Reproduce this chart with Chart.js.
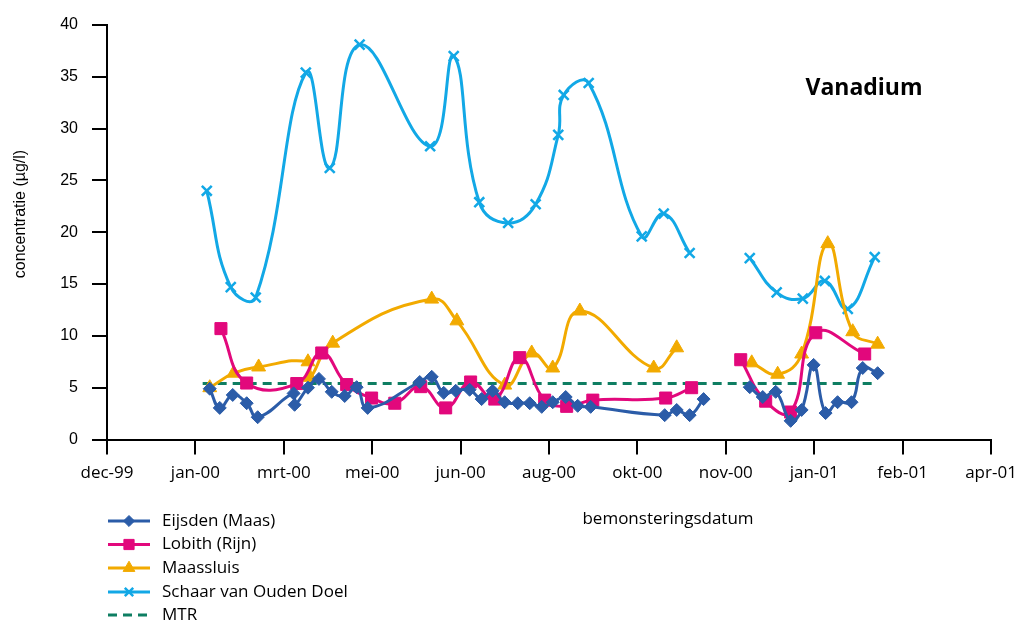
<!DOCTYPE html>
<html>
<head>
<meta charset="utf-8">
<script src="https://cdn.jsdelivr.net/npm/chart.js@4.4.0/dist/chart.umd.min.js"></script>
<style>
  html, body { margin: 0; padding: 0; background: #ffffff; }
  canvas { display: block; }
</style>
</head>
<body>
<canvas id="chart" width="1016" height="623"></canvas>
<script>
// Axis labels (one every 45 days on the date axis)
const tickLabels = ['dec-99', 'jan-00', 'mrt-00', 'mei-00', 'jun-00', 'aug-00', 'okt-00', 'nov-00', 'jan-01', 'feb-01', 'apr-01'];
const daysPerTick = 45;

// Sampling days (days after the first axis tick) and vanadium concentrations in µg/l.
// A null value marks the break in the sampling programme.
const eijsdenDays   = [52.3, 57.4, 64.0, 71.1, 76.7, 95.0, 95.5, 102.3, 107.9, 114.4, 121.0, 127.1, 132.7, 159.2, 165.3, 171.4, 177.5, 184.6, 190.7, 196.3, 202.4, 209.1, 215.2, 221.3, 226.9, 233.5, 239.6, 246.2, 283.9, 290.0, 296.6, 303.7, 315.0, 327.2, 333.8, 340.4, 348.0, 353.6, 359.7, 365.8, 371.9, 379.0, 384.7, 392.3];
const eijsdenValues = [4.9, 3.05, 4.3, 3.5, 2.15, 4.45, 3.35, 5.0, 5.85, 4.6, 4.2, 5.05, 3.05, 5.55, 6.05, 4.5, 4.7, 4.8, 3.9, 4.7, 3.6, 3.5, 3.5, 3.15, 3.6, 4.1, 3.25, 3.15, 2.35, 2.85, 2.35, 3.9, null, 5.05, 4.1, 4.6, 1.8, 2.85, 7.2, 2.55, 3.6, 3.6, 6.9, 6.4];

const lobithDays   = [58.0, 71.1, 96.6, 109.3, 122.0, 134.7, 146.5, 159.7, 172.4, 185.1, 197.4, 210.1, 222.8, 234.0, 247.3, 284.4, 297.6, 310.0, 322.6, 335.3, 348.0, 360.8, 385.7];
const lobithValues = [10.7, 5.45, 5.4, 8.35, 5.3, 4.0, 3.5, 5.1, 3.05, 5.55, 3.9, 7.9, 3.8, 3.2, 3.8, 4.0, 5.0, null, 7.7, 3.7, 2.65, 10.3, 8.25];

const maassluisDays   = [52.3, 64.5, 77.2, 102.3, 103.3, 114.9, 165.3, 178.1, 202.5, 216.2, 226.9, 240.7, 278.3, 290.0, 310.0, 328.2, 341.4, 353.6, 366.9, 379.6, 392.3];
const maassluisValues = [5.0, 6.4, 7.0, 7.5, 6.0, 9.3, 13.55, 11.45, 5.25, 8.35, 6.9, 12.4, 6.9, 8.85, null, 7.4, 6.3, 8.25, 18.9, 10.4, 9.2];

const schaarDays   = [50.8, 63.0, 75.7, 101.2, 113.4, 128.6, 164.5, 176.5, 189.5, 204.2, 218.2, 229.7, 232.5, 245.2, 272.2, 283.4, 296.6, 312.0, 327.2, 340.9, 354.2, 365.4, 377.1, 390.8];
const schaarValues = [24.0, 14.7, 13.7, 35.4, 26.2, 38.1, 28.3, 37.0, 22.9, 20.9, 22.7, 29.4, 33.25, 34.4, 19.6, 21.8, 18.0, null, 17.5, 14.2, 13.6, 15.3, 12.6, 17.6];

// Maximum toelaatbaar risico (MTR) over the sampled period
const mtrDays  = [48.7, 391.8];
const mtrLevel = 5.4;

const seriesNames = ['Eijsden (Maas)', 'Lobith (Rijn)', 'Maassluis', 'Schaar van Ouden Doel', 'MTR'];

function toPoints(days, values) {
  return days.map((d, i) => ({ x: d, y: values[i] }));
}

const textFont = "'Open Sans', 'DejaVu Sans', sans-serif";
const numFont = "'Liberation Sans', Arial, sans-serif";

function lineSet(label, data, color, style, radius, extra) {
  return Object.assign({
    label: label,
    data: data,
    borderColor: color,
    backgroundColor: color,
    borderWidth: 3,
    pointStyle: style,
    pointRadius: radius,
    pointBackgroundColor: color,
    pointBorderColor: color,
    pointBorderWidth: 1,
    tension: 0.45,
    spanGaps: false,
    fill: false
  }, extra || {});
}

const datasets = [
  lineSet(seriesNames[0], toPoints(eijsdenDays, eijsdenValues), '#2B5CA8', 'rectRot', 6.5),
  lineSet(seriesNames[1], toPoints(lobithDays, lobithValues), '#E2087C', 'rect', 8.5),
  lineSet(seriesNames[2], toPoints(maassluisDays, maassluisValues), '#F2AA00', 'triangle', 8),
  lineSet(seriesNames[3], toPoints(schaarDays, schaarValues), '#12A8E6', 'crossRot', 7, { pointBorderWidth: 2.5 }),
  lineSet(seriesNames[4], mtrDays.map(d => ({ x: d, y: mtrLevel })), '#0E7E62', 'line', 0, { borderDash: [9, 6], tension: 0 })
];

// Chart heading, axis captions and the stacked legend below the plot
const decorations = {
  id: 'decorations',
  afterDraw(chart) {
    const ctx = chart.ctx;
    ctx.save();
    ctx.fillStyle = '#000';
    ctx.textBaseline = 'middle';
    ctx.textAlign = 'center';

    ctx.font = "bold 23px " + textFont;
    ctx.fillText('Vanadium', 864, 88);

    ctx.font = "17px " + textFont;
    ctx.fillText('bemonsteringsdatum', 668, 519);

    ctx.save();
    ctx.translate(21, 214);
    ctx.rotate(-Math.PI / 2);
    ctx.font = "16px " + numFont;
    ctx.fillText('concentratie (µg/l)', 0, 0);
    ctx.restore();

    const rowY = [521, 544.5, 568, 592, 615];
    chart.data.datasets.forEach((ds, i) => {
      const y = rowY[i];
      ctx.save();
      ctx.strokeStyle = ds.borderColor;
      ctx.lineWidth = 3;
      ctx.setLineDash(ds.borderDash || []);
      ctx.beginPath();
      ctx.moveTo(108, y);
      ctx.lineTo(150, y);
      ctx.stroke();
      ctx.setLineDash([]);
      if (ds.pointRadius > 0 && Chart.helpers && Chart.helpers.drawPoint) {
        ctx.fillStyle = ds.pointBackgroundColor;
        ctx.strokeStyle = ds.pointBorderColor;
        ctx.lineWidth = ds.pointBorderWidth;
        Chart.helpers.drawPoint(ctx, {
          pointStyle: ds.pointStyle,
          radius: ds.pointRadius * 0.85,
          rotation: 0,
          borderWidth: ds.pointBorderWidth
        }, 129, y);
      }
      ctx.restore();
      ctx.fillStyle = '#000';
      ctx.textAlign = 'left';
      ctx.font = "17px " + textFont;
      ctx.fillText(ds.label, 162, y);
    });
    ctx.restore();
  }
};

new Chart(document.getElementById('chart'), {
  type: 'line',
  data: { datasets: datasets },
  options: {
    responsive: false,
    animation: false,
    events: [],
    layout: { padding: { top: 25, right: 25, bottom: 0, left: 0 } },
    plugins: {
      legend: { display: false },
      tooltip: { enabled: false }
    },
    scales: {
      x: {
        type: 'linear',
        min: 0,
        max: daysPerTick * (tickLabels.length - 1),
        afterFit: s => { s.height = 183.5; s.paddingRight = 0; s.paddingLeft = 0; },
        ticks: {
          stepSize: daysPerTick,
          autoSkip: false,
          maxRotation: 0,
          padding: 8,
          color: '#000',
          font: { family: textFont, size: 17 },
          callback: (v, i) => tickLabels[i]
        },
        grid: { drawOnChartArea: false, drawTicks: true, tickLength: 15, color: '#000', lineWidth: 2 },
        border: { color: '#000', width: 2 }
      },
      y: {
        min: 0,
        max: 40,
        afterFit: s => { s.width = 107; },
        ticks: {
          stepSize: 5,
          padding: 14,
          color: '#000',
          font: { family: numFont, size: 16 }
        },
        grid: { drawOnChartArea: false, drawTicks: true, tickLength: 15, color: '#000', lineWidth: 2 },
        border: { color: '#000', width: 2 }
      }
    }
  },
  plugins: [decorations]
});
</script>
</body>
</html>
